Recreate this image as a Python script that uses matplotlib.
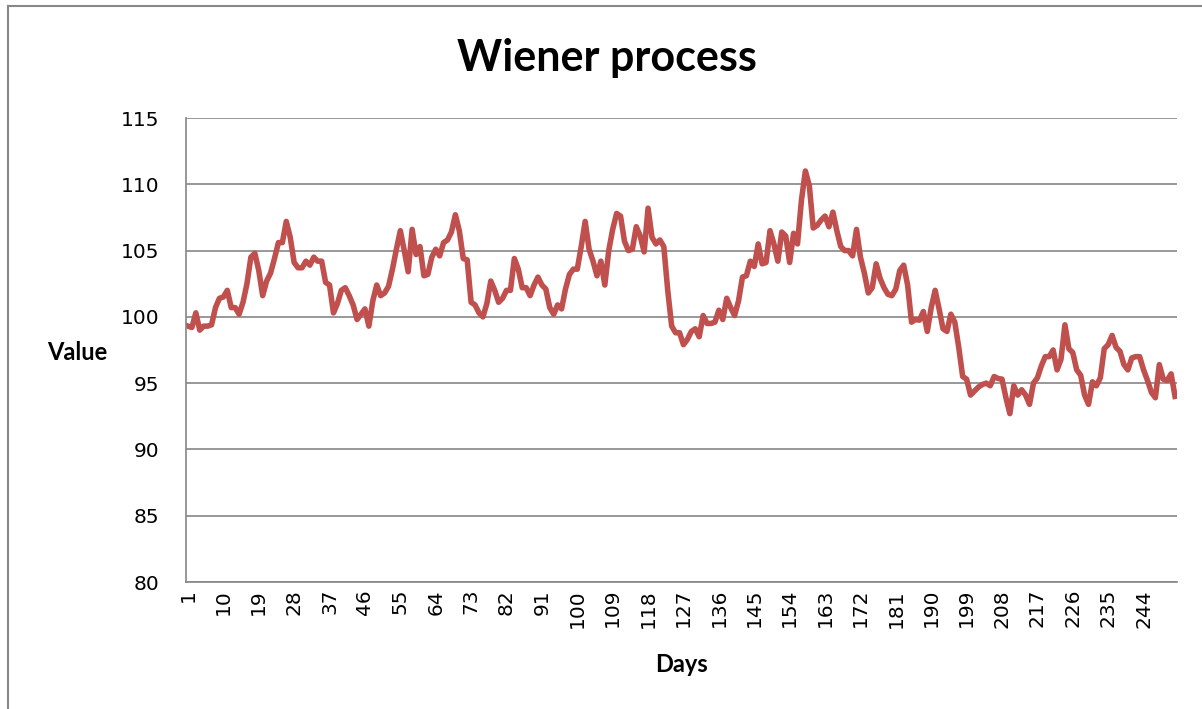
import matplotlib.pyplot as plt
from matplotlib.lines import Line2D

# values, one per day
values = [
    99.3, 99.2, 100.3, 99.0, 99.3, 99.3, 99.4, 100.7, 101.4, 101.5,
    102.0, 100.7, 100.7, 100.2, 101.1, 102.5, 104.5, 104.8, 103.5, 101.6,
    102.7, 103.3, 104.4, 105.6, 105.6, 107.2, 106.0, 104.1, 103.7, 103.7,
    104.2, 103.9, 104.5, 104.2, 104.2, 102.6, 102.4, 100.3, 101.0, 102.0,
    102.2, 101.6, 100.9, 99.8, 100.2, 100.6, 99.3, 101.2, 102.4, 101.6,
    101.8, 102.3, 103.6, 105.1, 106.5, 105.0, 103.4, 106.6, 104.7, 105.3,
    103.1, 103.2, 104.5, 105.1, 104.6, 105.6, 105.8, 106.4, 107.7, 106.5,
    104.4, 104.3, 101.1, 100.9, 100.3, 100.0, 101.0, 102.7, 102.0, 101.1,
    101.4, 102.0, 102.0, 104.4, 103.6, 102.2, 102.2, 101.6, 102.4, 103.0,
    102.4, 102.1, 100.7, 100.2, 100.9, 100.6, 102.1, 103.2, 103.6, 103.6,
    105.3, 107.2, 105.1, 104.2, 103.1, 104.2, 102.4, 105.0, 106.6, 107.8,
    107.6, 105.7, 105.0, 105.1, 106.8, 106.1, 104.9, 108.2, 106.0, 105.5,
    105.8, 105.3, 102.0, 99.3, 98.8, 98.8, 97.9, 98.3, 98.9, 99.1,
    98.5, 100.1, 99.5, 99.5, 99.6, 100.5, 99.8, 101.4, 100.7, 100.1,
    101.2, 103.0, 103.1, 104.2, 103.8, 105.5, 104.0, 104.1, 106.5, 105.5,
    104.2, 106.4, 106.1, 104.1, 106.3, 105.5, 108.8, 111.0, 109.9, 106.7,
    106.9, 107.3, 107.6, 106.8, 107.9, 106.5, 105.3, 105.0, 105.0, 104.6,
    106.6, 104.5, 103.3, 101.8, 102.2, 104.0, 102.9, 102.2, 101.7, 101.6,
    102.1, 103.5, 103.9, 102.4, 99.6, 99.8, 99.75, 100.4, 98.9, 100.7,
    102.0, 100.6, 99.1, 98.9, 100.2, 99.6, 97.7, 95.5, 95.3, 94.1,
    94.4, 94.7, 94.9, 95.0, 94.8, 95.5, 95.35, 95.3, 93.9, 92.7,
    94.8, 94.1, 94.5, 94.1, 93.4, 95.0, 95.4, 96.3, 97.0, 97.0,
    97.5, 96.0, 96.8, 99.4, 97.6, 97.3, 96.0, 95.6, 94.1, 93.4,
    95.1, 94.8, 95.4, 97.6, 97.9, 98.6, 97.7, 97.4, 96.4, 96.0,
    96.9, 97.0, 97.0, 96.0, 95.2, 94.3, 93.9, 96.4, 95.3, 95.2,
    95.7, 94.0,
]
days = list(range(1, len(values) + 1))
x_ticks = list(range(1, len(values) + 1, 9))
y_ticks = [80, 85, 90, 95, 100, 105, 110, 115]

W, H = 1202, 709
fig = plt.figure(figsize=(W / 100, H / 100), dpi=100)
ax = fig.add_axes([186 / W, 1 - 582 / H, (1177 - 186) / W, (582 - 118) / H])

ax.plot(days, values, color='#C0504D', linewidth=4.0, solid_joinstyle='round')

ax.set_xlim(0.5, len(values) + 0.5)
ax.set_ylim(80, 115)
ax.set_yticks(y_ticks)
ax.set_xticks(x_ticks)
ax.set_xticklabels([str(t) for t in x_ticks], rotation=90,
                   fontsize=14.5, family='DejaVu Sans')
ax.set_yticklabels([str(t) for t in y_ticks], fontsize=14.5,
                   family='DejaVu Sans')
ax.tick_params(length=0)
ax.tick_params(axis='x', pad=5)
ax.tick_params(axis='y', pad=19)

ax.grid(axis='y', color='#868686', linewidth=1.2)
ax.set_axisbelow(True)
for side in ['top', 'right']:
    ax.spines[side].set_visible(False)
for side in ['left', 'bottom']:
    ax.spines[side].set_color('#868686')
    ax.spines[side].set_linewidth(1.2)

fig.text(607 / W, 1 - 58 / H, 'Wiener process', ha='center', va='center',
         fontsize=31, fontweight='bold', family='Lato')
fig.text(77 / W, 1 - 352 / H, 'Value', ha='center', va='center',
         fontsize=17, fontweight='bold', family='Lato')
fig.text(681 / W, 1 - 665 / H, 'Days', ha='center', va='center',
         fontsize=17, fontweight='bold', family='Lato')

# outer chart border (left and top visible)
fig.add_artist(Line2D([8 / W, 8 / W], [0, 1 - 6 / H], color='#888888',
                      linewidth=1.5, transform=fig.transFigure))
fig.add_artist(Line2D([8 / W, 1], [1 - 6 / H, 1 - 6 / H], color='#888888',
                      linewidth=1.5, transform=fig.transFigure))

fig.savefig('out.png', dpi=100)
